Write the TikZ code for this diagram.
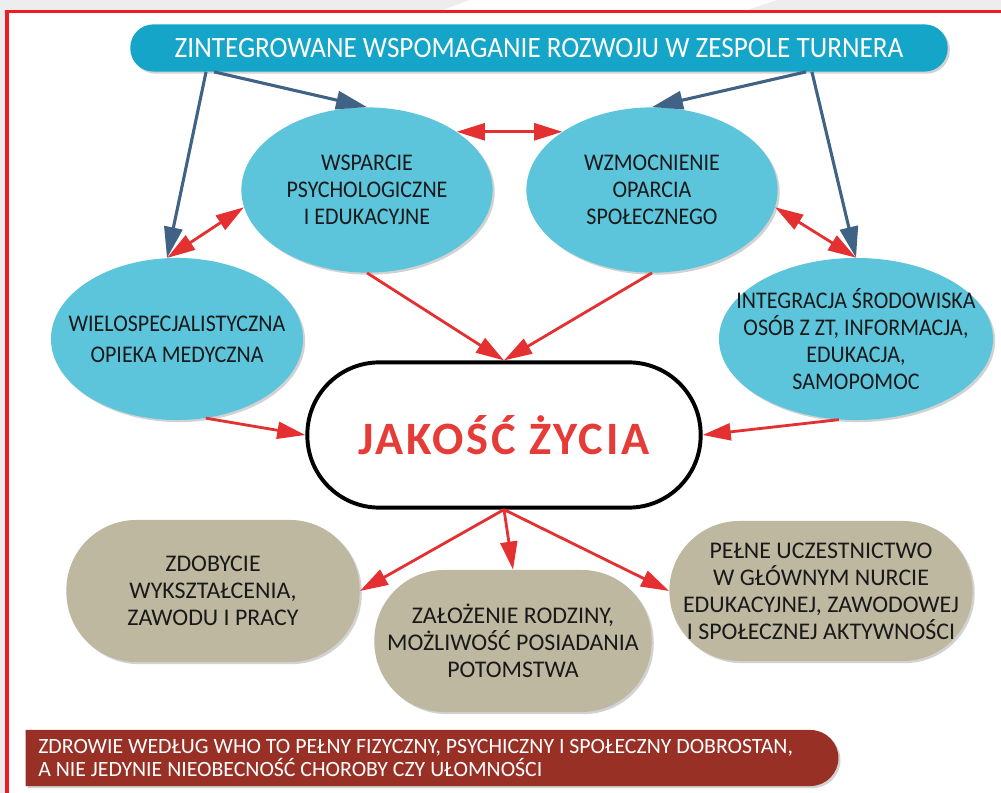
\documentclass[tikz,border=0pt]{standalone}
\usepackage{fontspec}
\setmainfont{Carlito}
\newfontfamily\narrowfont{Carlito}[FakeStretch=0.92]
\usepackage{xcolor}
\usetikzlibrary{arrows.meta,shapes.geometric,shapes.misc,shadows}
\definecolor{framered}{RGB}{237,28,36}
\definecolor{titleblue}{RGB}{20,165,200}
\definecolor{ellblue}{RGB}{92,197,220}
\definecolor{arrblue}{RGB}{64,98,132}
\definecolor{arrred}{RGB}{228,48,48}
\definecolor{boxtan}{RGB}{190,184,160}
\definecolor{whored}{RGB}{152,48,38}
\definecolor{jzred}{RGB}{230,60,55}

\begin{document}
\begin{tikzpicture}[x=0.025cm, y=-0.025cm,
    shade/.style={drop shadow={shadow xshift=1.5pt, shadow yshift=-1.5pt, opacity=.35}},
    ell/.style={ellipse, fill=ellblue, shade, inner xsep=-1.2cm, inner ysep=-0.4cm,
        align=center, text=black!90, font=\narrowfont\fontsize{17}{19.2}\selectfont},
    tanbox/.style={rectangle, rounded corners=1.75cm, fill=boxtan, shade, align=center,
        text=black!90, font=\fontsize{17}{19.2}\selectfont},
    bluearr/.style={draw=arrblue, line width=2.2pt, -{Triangle[length=22pt,width=13pt]}},
    redarr/.style={draw=arrred, line width=2pt, -{Triangle[length=20pt,width=12pt]}},
    dblarr/.style={draw=arrred, line width=2pt,
        {Triangle[length=20pt,width=12pt]}-{Triangle[length=20pt,width=12pt]}}]
\useasboundingbox (0,0) rectangle (1001,793);
\fill[black!7] (0,0) rectangle (1001,793);
\fill[white] (443,10) -- (470,0) -- (777,0) -- (747,10) -- cycle;
\fill[white] (7,11.5) rectangle (1001,793);
\draw[framered, line width=2.2pt] (7,793) -- (7,11.5) -- (1001,11.5);

\node[rectangle, rounded corners=.58cm, fill=titleblue, shade, minimum width=20.43cm,
    minimum height=1.18cm, text=white, font=\narrowfont\fontsize{21}{24}\selectfont]
    (ti) at (539,48) {ZINTEGROWANE WSPOMAGANIE ROZWOJU W ZESPOLE TURNERA};

\node[ell, minimum width=6.28cm, minimum height=4.13cm] (ps) at (367,190)
    {WSPARCIE\\PSYCHOLOGICZNE\\I EDUKACYJNE};
\node[ell, minimum width=6.28cm, minimum height=4.13cm] (op) at (652,190)
    {WZMOCNIENIE\\OPARCIA\\SPOŁECZNEGO};
\node[ell, minimum width=6.3cm, minimum height=4.05cm] (med) at (177,339)
    {WIELOSPECJALISTYCZNA\\[3pt]OPIEKA MEDYCZNA};
\node[ell, minimum width=6.85cm, minimum height=4.05cm] (integ) at (856,339)
    {INTEGRACJA ŚRODOWISKA\\OSÓB Z ZT, INFORMACJA,\\EDUKACJA,\\SAMOPOMOC};

\node[rectangle, draw=black, line width=2.8pt, rounded corners=1.8cm, fill=white,
    minimum width=9.83cm, minimum height=3.63cm, text=jzred,
    font=\fontsize{33}{36}\selectfont\bfseries\addfontfeatures{LetterSpace=6}]
    (jz) at (504,435) {JAKOŚĆ ŻYCIA};

\node[tanbox, minimum width=7.33cm, minimum height=3.55cm] (zd) at (213,591)
    {ZDOBYCIE\\WYKSZTAŁCENIA,\\ZAWODU I PRACY};
\node[tanbox, minimum width=6.93cm, minimum height=3.55cm] (zr) at (513,641)
    {ZAŁOŻENIE RODZINY,\\MOŻLIWOŚĆ POSIADANIA\\POTOMSTWA};
\node[tanbox, minimum width=7.58cm, minimum height=3.5cm] (pu) at (821,591)
    {PEŁNE UCZESTNICTWO\\W GŁÓWNYM NURCIE\\EDUKACYJNEJ, ZAWODOWEJ\\I SPOŁECZNEJ AKTYWNOŚCI};

\node[rounded rectangle, rounded rectangle west arc=none, fill=whored, shade,
    minimum width=20.55cm, minimum height=1.4cm] (who) at (432,758) {};
\node[anchor=west, align=left, text=white, font=\fontsize{15.5}{16.2}\selectfont]
    (whotxt) at ([xshift=.2cm]who.west)
    {ZDROWIE WEDŁUG WHO TO PEŁNY FIZYCZNY, PSYCHICZNY I SPOŁECZNY DOBROSTAN,\\
     A NIE JEDYNIE NIEOBECNOŚĆ CHOROBY CZY UŁOMNOŚCI};

\draw[bluearr] ([xshift=1.9cm]ti.south west) -- (med.97);
\draw[bluearr] ([xshift=2.1cm]ti.south west) -- (ps.north);
\draw[bluearr] ([xshift=-3.55cm]ti.south east) -- (op.north);
\draw[bluearr] ([xshift=-3.4cm]ti.south east) -- (integ.north);

\draw[dblarr] (ps.33) -- (op.147);
\draw[dblarr] (ps.188) -- (med.97);
\draw[dblarr] (op.-8) -- (integ.north);

\draw[redarr] (ps.south) -- (jz.north);
\draw[redarr] (op.south) -- (jz.north);
\draw[redarr] (med.-70) -- (jz.west);
\draw[redarr] (integ.-102) -- (jz.east);
\foreach \n in {zd.east, zr.north, pu.west}
    \draw[redarr] (jz.south) -- (\n);
\end{tikzpicture}
\end{document}
